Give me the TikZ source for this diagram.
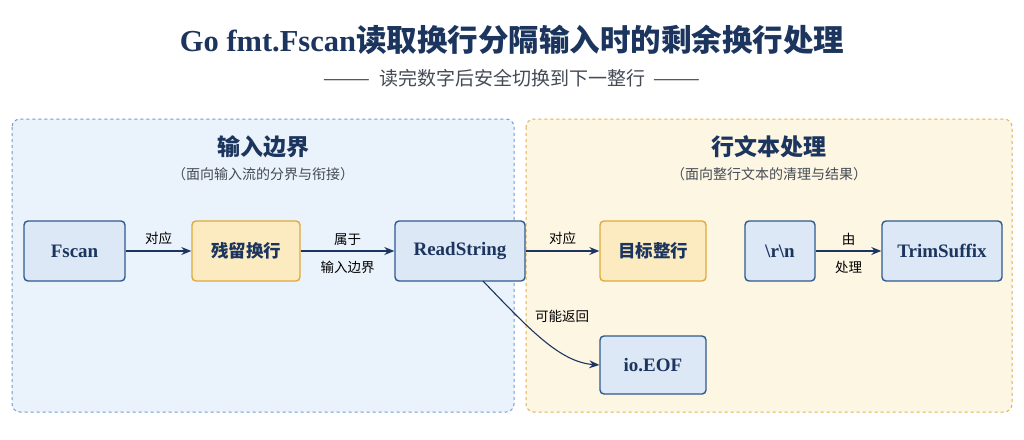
\documentclass[tikz,border=0pt]{standalone}
\usepackage{fontspec}
\setmainfont{Liberation Serif}
\newfontfamily\cjk{Noto Sans CJK SC}
\usetikzlibrary{arrows.meta}
\definecolor{navy}{HTML}{1C355E}
\definecolor{bfill}{HTML}{DDE8F7}
\definecolor{bdraw}{HTML}{2E5A90}
\definecolor{ofill}{HTML}{FCEBC0}
\definecolor{odraw}{HTML}{E0A93B}
\definecolor{lpf}{HTML}{EAF2FB}
\definecolor{lpd}{HTML}{6E9DD2}
\definecolor{rpf}{HTML}{FDF6E3}
\definecolor{rpd}{HTML}{E3B04B}
\definecolor{sub}{HTML}{444B55}
\begin{document}
\begin{tikzpicture}[x=1pt,y=-1pt,
 box/.style={draw=bdraw,fill=bfill,line width=1.4pt,rounded corners=4pt,text=navy,font=\bfseries\fontsize{19}{22}\selectfont},
 obox/.style={box,draw=odraw,fill=ofill},
 arr/.style={-{Stealth[length=10pt,width=8pt]},line width=1.1pt,draw=navy},
 lab/.style={text=black,font=\cjk\fontsize{13.5}{16}\selectfont}]
\useasboundingbox[fill=white] (0,0) rectangle (1024,439);
\node[text=navy,font=\bfseries\fontsize{30.5}{36}\selectfont] (title) at (512,40) {Go fmt.Fscan{\cjk 读取换行分隔输入时的剩余换行处理}};
\node[text=sub,font=\cjk\fontsize{19}{22}\selectfont] (subt) at (512,78) {———\ \ 读完数字后安全切换到下一整行\ \ ———};
\draw[draw=lpd,fill=lpf,dashed,line width=1pt,rounded corners=8pt] (12,119) rectangle (514,412);
\draw[draw=rpd,fill=rpf,dashed,line width=1pt,rounded corners=8pt] (526,119) rectangle (1012,412);
\node[text=navy,font=\cjk\bfseries\fontsize{23}{26}\selectfont] (lt) at (263,147) {输入边界};
\node[text=sub,font=\cjk\fontsize{14}{16}\selectfont] (ls) at (263,174) {（面向输入流的分界与衔接）};
\node[text=navy,font=\cjk\bfseries\fontsize{23}{26}\selectfont] (rt) at (769,147) {行文本处理};
\node[text=sub,font=\cjk\fontsize{14}{16}\selectfont] (rs) at (769,174) {（面向整行文本的清理与结果）};
\node[box,minimum width=101pt,minimum height=60pt] (fscan) at (74.5,251) {Fscan};
\node[obox,minimum width=108pt,minimum height=60pt,font=\cjk\bfseries\fontsize{17.5}{20}\selectfont] (rem) at (246,251) {残留换行};
\node[box,minimum width=130pt,minimum height=60pt] (rs2) at (460,251) {ReadString};
\node[obox,minimum width=106pt,minimum height=60pt,font=\cjk\bfseries\fontsize{17.5}{20}\selectfont] (tgt) at (653,251) {目标整行};
\node[box,minimum width=70pt,minimum height=60pt] (crlf) at (780,251) {\textbackslash r\textbackslash n};
\node[box,minimum width=120pt,minimum height=60pt] (trim) at (942,251) {TrimSuffix};
\node[box,minimum width=106pt,minimum height=58pt] (eof) at (653,365) {io.EOF};
\draw[arr] (fscan) -- node[lab,above=2pt] {对应} (rem);
\draw[arr] (rem) -- node[lab,above=2pt] {属于} node[lab,below=6pt] {输入边界} (rs2);
\draw[arr] (rs2) -- node[lab,above=2pt] {对应} (tgt);
\draw[arr] (crlf) -- node[lab,above=2pt] {由} node[lab,below=6pt] {处理} (trim);
\coordinate (st) at (483,281);
\draw[arr] (st) .. controls (530,330) and (560,362) .. (eof.west);
\node[lab] (ml) at (562,316) {可能返回};
\end{tikzpicture}
\end{document}
